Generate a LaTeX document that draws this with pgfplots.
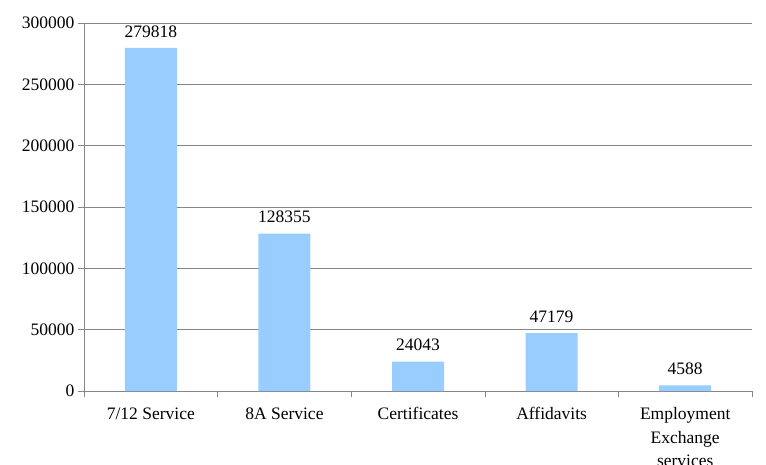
\documentclass[border=0pt]{standalone}
\usepackage{pgfplots}
\pgfplotsset{compat=1.18}
\usepackage{fontspec}
\setmainfont{Liberation Serif}
\definecolor{barblue}{HTML}{99CCFF}
\definecolor{gridgray}{HTML}{868686}
\begin{document}
\begin{tikzpicture}
\useasboundingbox (-84pt,-73pt) rectangle (682pt,391pt);
\begin{axis}[
    scale only axis,
    width=668pt,
    height=368pt,
    xmin=-0.5, xmax=4.5,
    ymin=0, ymax=300000,
    ybar,
    bar width=52pt,
    axis x line*=bottom,
    axis y line*=left,
    axis line style={gridgray},
    every tick/.style={gridgray},
    tick align=outside,
    major tick length=6pt,
    minor tick length=6pt,
    scaled y ticks=false,
    ytick={0,50000,100000,150000,200000,250000,300000},
    yticklabels={0,50000,100000,150000,200000,250000,300000},
    ymajorgrids,
    grid style={gridgray},
    xtick={0,1,2,3,4},
    xticklabels={7/12 Service,8A Service,Certificates,Affidavits,{Employment\\Exchange\\services}},
    major x tick style={draw=none},
    minor xtick={-0.5,0.5,1.5,2.5,3.5,4.5},
    tick label style={font=\fontsize{17.5}{23.5}\selectfont},
    x tick label style={align=center, yshift=-7pt},
    point meta=explicit symbolic,
    nodes near coords,
    every node near coord/.append style={font=\fontsize{17.5}{20}\selectfont, black, yshift=7pt},
]
\addplot[fill=barblue, draw=none] coordinates {
    (0,279818) [279818]
    (1,128355) [128355]
    (2,24043) [24043]
    (3,47179) [47179]
    (4,4588) [4588]
};
\end{axis}
\end{tikzpicture}
\end{document}
